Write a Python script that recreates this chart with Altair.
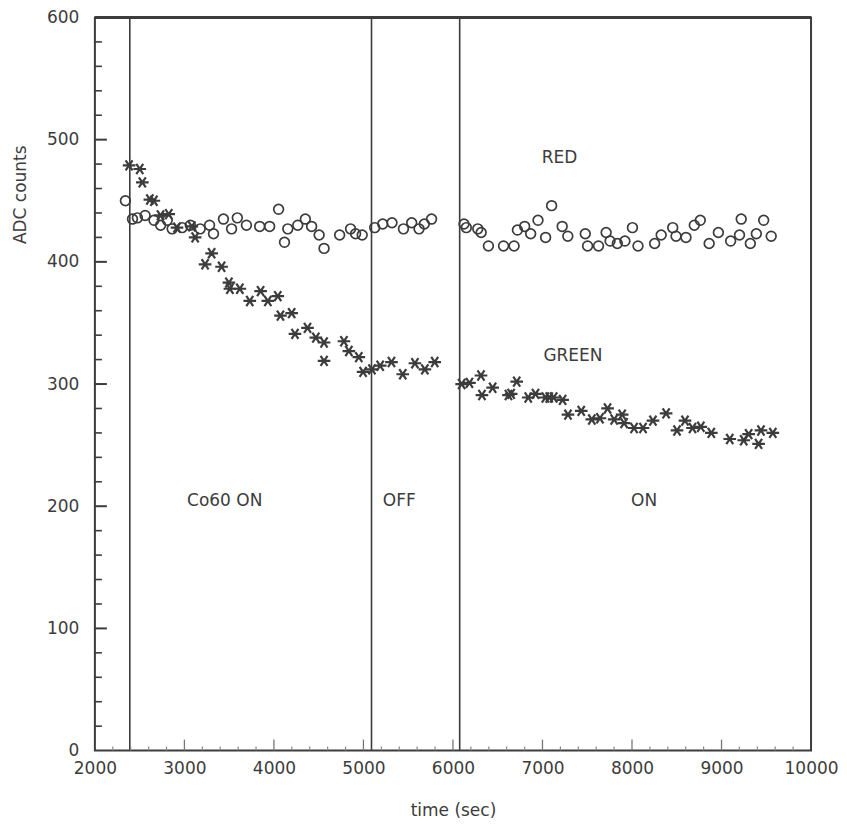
import altair as alt
import pandas as pd

# ---- data ----
red_time = [2341, 2420, 2475, 2561, 2660, 2734, 2808, 2863, 2974, 3066, 3176, 3281, 3325, 3436,
            3527, 3591, 3693, 3841, 3952, 4052, 4118, 4155, 4266, 4351, 4421, 4505, 4560, 4734,
            4856, 4912, 4986, 5126, 5215, 5319, 5447, 5539, 5621, 5680, 5761,
            6123, 6149, 6277, 6315, 6396, 6565, 6683, 6720, 6801, 6868, 6950, 7035, 7102, 7220,
            7283, 7478, 7504, 7626, 7711, 7755, 7836, 7921, 8005, 8067, 8253, 8326, 8455, 8492,
            8603, 8696, 8763, 8862, 8965, 9102, 9201, 9220, 9322, 9389, 9471, 9555]
red_adc = [450, 435, 436, 438, 434, 430, 434, 427, 428, 430, 427, 430, 423, 435,
           427, 436, 430, 429, 429, 443, 416, 427, 430, 435, 429, 422, 411, 422,
           427, 423, 422, 428, 431, 432, 427, 432, 427, 431, 435,
           431, 428, 427, 424, 413, 413, 413, 426, 429, 423, 434, 420, 446, 429,
           421, 423, 413, 413, 424, 417, 415, 417, 428, 413, 415, 422, 428, 421,
           420, 430, 434, 415, 424, 417, 422, 435, 415, 423, 434, 421]

green_time = [2382, 2501, 2530, 2614, 2659, 2733, 2825, 2917, 3083, 3120, 3231, 3304, 3415, 3497,
              3508, 3619, 3730, 3851, 3932, 4043, 4073, 4198, 4235, 4375, 4468, 4560, 4560, 4782,
              4837, 4948, 4996, 5095, 5187, 5313, 5439, 5575, 5686, 5796,
              6097, 6184, 6313, 6324, 6443, 6620, 6650, 6712, 6841, 6922, 7032, 7075, 7125, 7225,
              7285, 7433, 7551, 7642, 7727, 7801, 7890, 7912, 8023, 8123, 8234, 8381, 8503, 8592,
              8676, 8769, 8886, 9092, 9248, 9303, 9414, 9441, 9573]
green_adc = [479, 476, 465, 451, 450, 438, 439, 428, 429, 420, 398, 407, 396, 383,
             378, 378, 368, 376, 368, 372, 356, 358, 341, 346, 338, 334, 319, 335,
             327, 322, 310, 312, 315, 318, 308, 317, 312, 318,
             300, 301, 307, 291, 297, 291, 292, 302, 289, 292, 289, 289, 289, 287,
             275, 278, 271, 272, 280, 271, 275, 268, 264, 264, 270, 276, 262, 270,
             264, 265, 260, 255, 254, 259, 251, 262, 260]

period_lines = [2390, 5090, 6075]

label_text = ["RED", "GREEN", "Co60 ON", "OFF", "ON"]
label_time = [7190, 7340, 3450, 5400, 8135]
label_adc = [485, 323, 204, 204, 204]

x_major = [3000, 4000, 5000, 6000, 7000, 8000, 9000]
x_minor = [v for v in range(2200, 10000, 200) if v % 1000 != 0]
y_major = [100, 200, 300, 400, 500]
y_minor = [v for v in range(20, 600, 20) if v % 100 != 0]

# ---- styling ----
W, H = 717, 734
INK = "#3c3c3c"
FONT = "DejaVu Sans"
ASTERISK = "M-1,0L1,0M-0.55,-0.8L0.55,0.8M-0.55,0.8L0.55,-0.8"

xs = alt.Scale(domain=[2000, 10000], nice=False, zero=False)
ys = alt.Scale(domain=[0, 600], nice=False, zero=True)

red = pd.DataFrame({"t": red_time, "adc": red_adc})
green = pd.DataFrame({"t": green_time, "adc": green_adc})
lines = pd.DataFrame({"t": period_lines})
labels = pd.DataFrame({"t": label_time, "adc": label_adc, "txt": label_text})

x_axis = alt.Axis(values=[2000, 3000, 4000, 5000, 6000, 7000, 8000, 9000, 10000], format="d",
                  ticks=False, domain=False, grid=False, labelPadding=10, titlePadding=26,
                  labelFont=FONT, titleFont=FONT, labelFontSize=17, titleFontSize=17,
                  labelColor=INK, titleColor=INK, titleFontWeight="normal",
                  labelFlush=False, labelOverlap=False)
y_axis = alt.Axis(values=[0, 100, 200, 300, 400, 500, 600], format="d",
                  ticks=False, domain=False, grid=False, labelPadding=16,
                  labelFont=FONT, titleFont=FONT, labelFontSize=17, titleFontSize=17,
                  labelColor=INK, titleColor=INK, titleFontWeight="normal",
                  labelFlush=False, labelOverlap=False,
                  titleX=-74, titleY=177, titleAlign="center", titleBaseline="middle",
                  titleAngle=270)

red_layer = alt.Chart(red).mark_point(
    shape="circle", filled=False, size=95, stroke=INK, strokeWidth=1.7, opacity=1
).encode(
    x=alt.X("t:Q", scale=xs, title="time (sec)", axis=x_axis),
    y=alt.Y("adc:Q", scale=ys, title="ADC counts", axis=y_axis),
)

green_layer = alt.Chart(green).mark_point(
    shape=ASTERISK, filled=False, size=160, stroke=INK, strokeWidth=2.2, opacity=1
).encode(
    x=alt.X("t:Q", scale=xs),
    y=alt.Y("adc:Q", scale=ys),
)

line_layer = alt.Chart(lines).mark_rule(color=INK, strokeWidth=1.6).encode(
    x=alt.X("t:Q", scale=xs)
)

text_layer = alt.Chart(labels).mark_text(
    font=FONT, fontSize=17, color=INK, align="center", baseline="middle"
).encode(
    x=alt.X("t:Q", scale=xs),
    y=alt.Y("adc:Q", scale=ys),
    text="txt:N",
)

ytick_major = alt.Chart(pd.DataFrame({"v": y_major})).mark_rule(color=INK, strokeWidth=2).encode(
    y=alt.Y("v:Q", scale=ys), x=alt.value(0), x2=alt.value(12)
)
ytick_minor = alt.Chart(pd.DataFrame({"v": y_minor})).mark_rule(color=INK, strokeWidth=1.6).encode(
    y=alt.Y("v:Q", scale=ys), x=alt.value(0), x2=alt.value(7)
)
xtick_major = alt.Chart(pd.DataFrame({"v": x_major})).mark_rule(color="#777777", strokeWidth=1.3).encode(
    x=alt.X("v:Q", scale=xs), y=alt.value(H), y2=alt.value(H - 11)
)
xtick_minor = alt.Chart(pd.DataFrame({"v": x_minor})).mark_rule(color="#888888", strokeWidth=1.2).encode(
    x=alt.X("v:Q", scale=xs), y=alt.value(H), y2=alt.value(H - 4)
)
top_frame = alt.Chart(pd.DataFrame({"v": [600]})).mark_rule(color=INK, strokeWidth=3).encode(
    y=alt.Y("v:Q", scale=ys), x=alt.value(0), x2=alt.value(W)
)

chart = alt.layer(
    red_layer, green_layer, line_layer, text_layer,
    ytick_major, ytick_minor, xtick_major, xtick_minor, top_frame,
).properties(
    width=W, height=H, background="white",
    padding={"left": 4, "top": 0, "right": 0, "bottom": 0},
).configure_view(
    stroke=INK, strokeWidth=2
)

chart.save("out.html", embed_options={"renderer": "svg", "actions": False})
